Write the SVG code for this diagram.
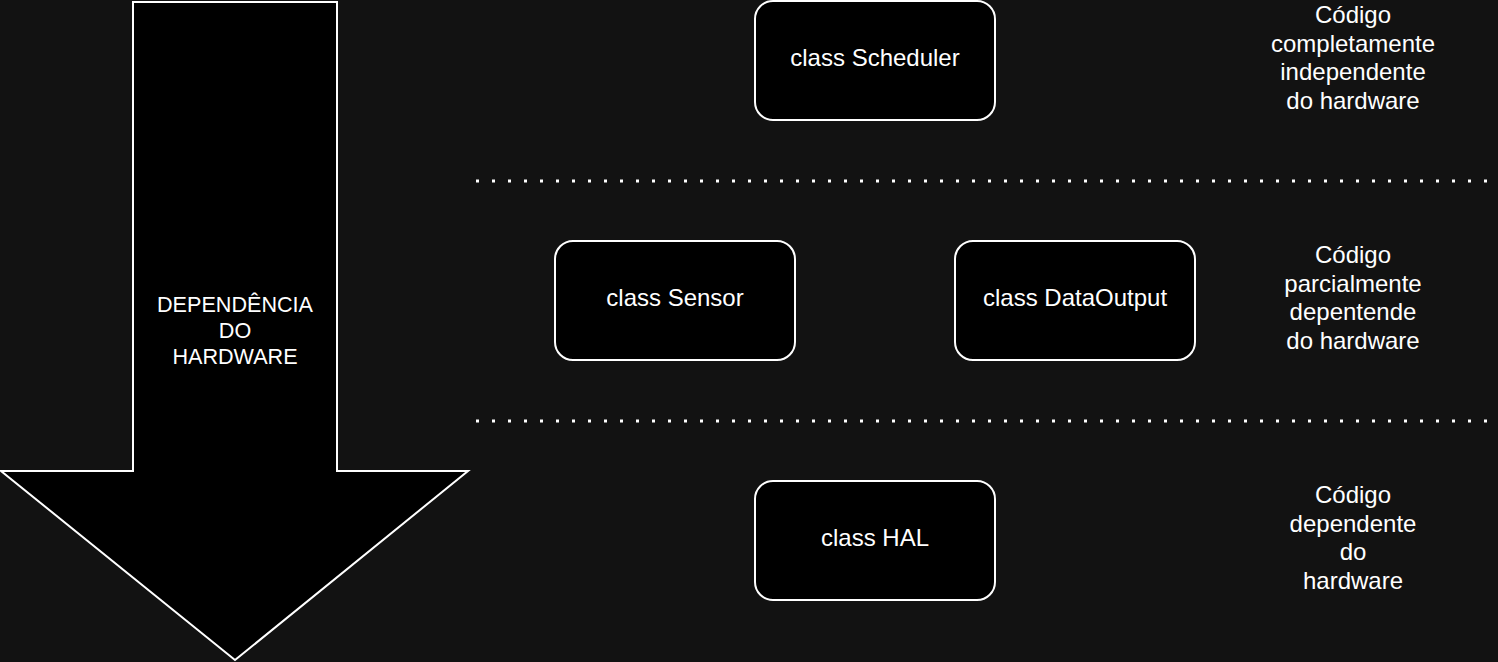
<svg xmlns="http://www.w3.org/2000/svg" width="1498" height="662" viewBox="0 0 1498 662">
<style>
.bg{fill:#121212}
.box{fill:#000;stroke:#fff;stroke-width:2}
.t{font-family:"Liberation Sans",Arial,sans-serif;font-size:24px;fill:#fff;text-anchor:middle}
.ta{font-family:"Liberation Sans",Arial,sans-serif;font-size:21.6px;fill:#fff;text-anchor:middle}
.dot{stroke:#fff;stroke-width:3;stroke-dasharray:3 13;fill:none}
</style>
<rect class="bg" x="0" y="0" width="1498" height="662"/>
<g id="arrow">
<path class="box" d="M133,2 H337 V471 H468 L235,660 L1,471 H133 Z" stroke-linejoin="miter"/>
<text class="ta" x="235" y="311.5">DEPENDÊNCIA</text>
<text class="ta" x="235" y="337.5">DO</text>
<text class="ta" x="235" y="363.5">HARDWARE</text>
</g>
<g id="connectors">
<line class="dot" x1="476" y1="181" x2="1490" y2="181"/>
<line class="dot" x1="476" y1="421" x2="1490" y2="421"/>
</g>
<g id="scheduler">
<rect class="box" x="755" y="1" width="240" height="119" rx="18"/>
<text class="t" x="875" y="66">class Scheduler</text>
</g>
<g id="sensor">
<rect class="box" x="555" y="241" width="240" height="119" rx="18"/>
<text class="t" x="675" y="306">class Sensor</text>
</g>
<g id="dataoutput">
<rect class="box" x="955" y="241" width="240" height="119" rx="18"/>
<text class="t" x="1075" y="306">class DataOutput</text>
</g>
<g id="hal">
<rect class="box" x="755" y="481" width="240" height="119" rx="18"/>
<text class="t" x="875" y="546">class HAL</text>
</g>
<g id="label-top">
<text class="t" x="1353" y="23">Código</text>
<text class="t" x="1353" y="52">completamente</text>
<text class="t" x="1353" y="80">independente</text>
<text class="t" x="1353" y="109">do hardware</text>
</g>
<g id="label-mid">
<text class="t" x="1353" y="263">Código</text>
<text class="t" x="1353" y="292">parcialmente</text>
<text class="t" x="1353" y="320">depentende</text>
<text class="t" x="1353" y="349">do hardware</text>
</g>
<g id="label-bottom">
<text class="t" x="1353" y="503">Código</text>
<text class="t" x="1353" y="532">dependente</text>
<text class="t" x="1353" y="560">do</text>
<text class="t" x="1353" y="589">hardware</text>
</g>
</svg>
